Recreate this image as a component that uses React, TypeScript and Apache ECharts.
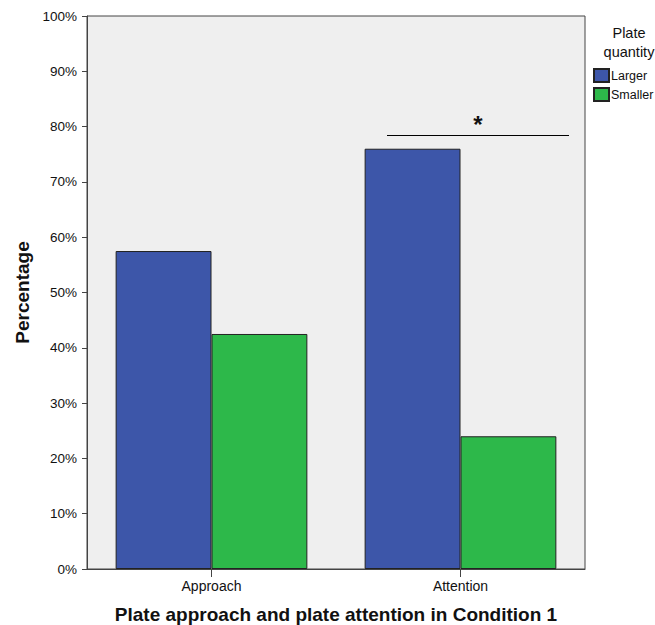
import React, { useEffect, useRef } from "react";
import * as echarts from "echarts";

const categories = ["Approach", "Attention"];
const largerValues = [57.5, 76.0];
const smallerValues = [42.5, 24.0];
const seriesNames = ["Larger", "Smaller"];
const legendTitle = "Plate\nquantity";
const xTitle = "Plate approach and plate attention in Condition 1";
const yTitle = "Percentage";

const FONT = "'Liberation Sans', Arial, sans-serif";

export default function App() {
  const ref = useRef<HTMLDivElement>(null);
  useEffect(() => {
    if (!ref.current) return;
    const chart = echarts.init(ref.current, null, { renderer: "svg" });
    const axisColor = "#444";
    chart.setOption({
      animation: false,
      backgroundColor: "#ffffff",
      textStyle: { fontFamily: FONT },
      grid: {
        left: 87,
        right: 70,
        top: 16,
        bottom: 56,
        outerBoundsMode: "none",
        containLabel: false,
        show: true,
        backgroundColor: "#EFEFEF",
        borderColor: axisColor,
        borderWidth: 1,
      },
      legend: {
        orient: "vertical",
        left: 593,
        top: 68,
        padding: 0,
        itemWidth: 15,
        itemHeight: 13,
        itemGap: 4,
        textStyle: { fontSize: 12.5, color: "#111", fontFamily: FONT, padding: [0, 0, 0, -3] },
        data: seriesNames.map((n) => ({ name: n, icon: "rect" })),
      },
      xAxis: {
        type: "category",
        data: categories,
        name: xTitle,
        nameLocation: "middle",
        nameGap: 36,
        nameTextStyle: { fontSize: 19, fontWeight: "bold", color: "#111", fontFamily: FONT },
        axisLine: { show: true, lineStyle: { color: axisColor } },
        axisTick: { show: true, alignWithLabel: true, length: 8, lineStyle: { color: axisColor } },
        axisLabel: { fontSize: 14, color: "#111", margin: 10, fontFamily: FONT },
      },
      yAxis: {
        type: "value",
        min: 0,
        max: 100,
        interval: 10,
        name: yTitle,
        nameLocation: "middle",
        nameGap: 54,
        nameTextStyle: { fontSize: 19, fontWeight: "bold", color: "#111", fontFamily: FONT },
        axisLine: { show: true, lineStyle: { color: axisColor } },
        axisTick: { show: true, length: 5, lineStyle: { color: axisColor } },
        splitLine: { show: false },
        axisLabel: { fontSize: 13.5, color: "#111", margin: 10, formatter: "{value}%", fontFamily: FONT },
      },
      series: [
        {
          name: seriesNames[0],
          type: "bar",
          data: largerValues,
          barGap: "0%",
          barCategoryGap: "23%",
          itemStyle: { color: "#3D56A9", borderColor: "#222", borderWidth: 1 },
        },
        {
          name: seriesNames[1],
          type: "bar",
          data: smallerValues,
          itemStyle: { color: "#2DB84A", borderColor: "#222", borderWidth: 1 },
        },
      ],
      graphic: [
        {
          type: "text",
          x: 629,
          y: 23,
          style: {
            text: legendTitle,
            fontSize: 14.5,
            fill: "#111",
            fontFamily: FONT,
            align: "center",
            lineHeight: 19,
          },
        },
        {
          type: "line",
          shape: { x1: 387, y1: 135.5, x2: 569, y2: 135.5 },
          style: { stroke: "#000", lineWidth: 1 },
        },
        {
          type: "text",
          x: 478,
          y: 124,
          style: {
            text: "*",
            fontSize: 24,
            fontWeight: "bold",
            fill: "#111",
            fontFamily: FONT,
            align: "center",
            verticalAlign: "middle",
          },
        },
      ],
    });
    return () => chart.dispose();
  }, []);
  return (
    <div
      ref={ref}
      style={{ position: "absolute", left: 0, top: 0, width: 655, height: 625 }}
    />
  );
}
